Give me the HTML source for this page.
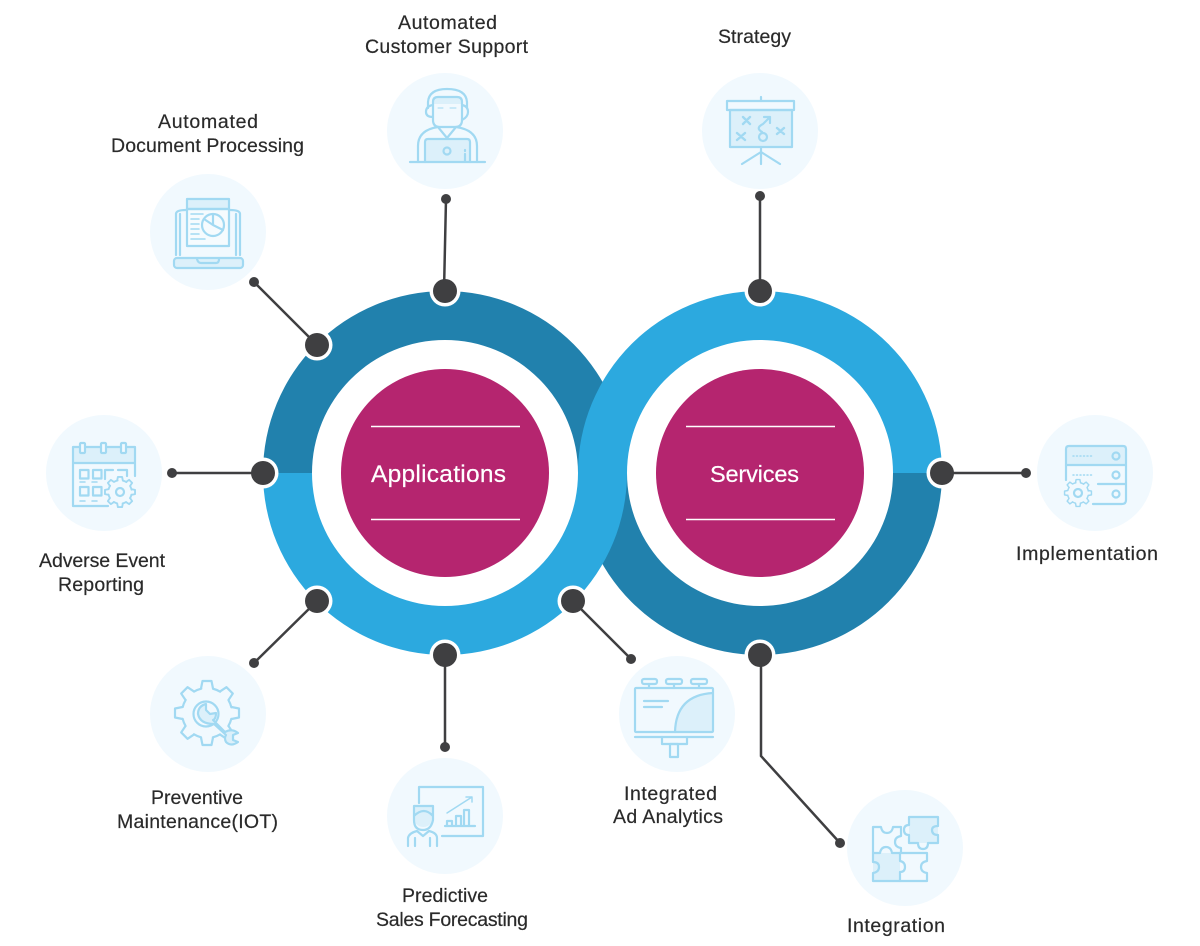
<!DOCTYPE html>
<html><head><meta charset="utf-8"><style>
html,body{margin:0;padding:0;background:#fff}
svg{display:block}
text{font-family:"Liberation Sans",sans-serif;font-size:19.5px;fill:#2a2a2a;stroke:#2a2a2a;stroke-width:.2}
.c{fill:#f1f9fe}
.i{fill:none;stroke:#a1d9f2;stroke-width:2.2;stroke-linejoin:round;stroke-linecap:round}
.f{fill:#dcf0fa;stroke:none}
.l{stroke:#3f3f41;stroke-width:2.5;fill:none}
.n{fill:#3f3f41}
.h{fill:#fff}
.d{fill:#3f3f41}
</style></head><body>
<svg width="1200" height="946" viewBox="0 0 1200 946" xmlns="http://www.w3.org/2000/svg">
<defs>
<g id="gear">
<circle r="25" fill="#f1f9fe" stroke="none"/>
<circle r="25" stroke-dasharray="7.63 12" stroke-dashoffset="13.63"/>
<path d="M-6 -24.500L-4.500 -32H4.500L6 -24.500"/>
<path transform="rotate(45)" d="M-6 -24.500L-4.500 -32H4.500L6 -24.500"/>
<path transform="rotate(90)" d="M-6 -24.500L-4.500 -32H4.500L6 -24.500"/>
<path transform="rotate(135)" d="M-6 -24.500L-4.500 -32H4.500L6 -24.500"/>
<path transform="rotate(180)" d="M-6 -24.500L-4.500 -32H4.500L6 -24.500"/>
<path transform="rotate(225)" d="M-6 -24.500L-4.500 -32H4.500L6 -24.500"/>
<path transform="rotate(270)" d="M-6 -24.500L-4.500 -32H4.500L6 -24.500"/>
<path transform="rotate(315)" d="M-6 -24.500L-4.500 -32H4.500L6 -24.500"/>
</g>
</defs>
<rect width="1200" height="946" fill="#fff"/>

<!-- icon circles -->
<circle class="c" cx="445" cy="131" r="58"/>
<circle class="c" cx="760" cy="131" r="58"/>
<circle class="c" cx="208" cy="232" r="58"/>
<circle class="c" cx="104" cy="473" r="58"/>
<circle class="c" cx="208" cy="714" r="58"/>
<circle class="c" cx="445" cy="816" r="58"/>
<circle class="c" cx="677" cy="714" r="58"/>
<circle class="c" cx="1095" cy="473" r="58"/>
<circle class="c" cx="905" cy="848" r="58"/>

<!-- rings: dark halves first, light halves on top -->
<path d="M263 473A182 182 0 0 1 627 473H578A133 133 0 0 0 312 473Z" fill="#2181ad"/>
<path d="M578 473A182 182 0 0 0 942 473H893A133 133 0 0 1 627 473Z" fill="#2181ad"/>
<path d="M263 473A182 182 0 0 0 627 473H578A133 133 0 0 1 312 473Z" fill="#2ca9df"/>
<path d="M578 473A182 182 0 0 1 942 473H893A133 133 0 0 0 627 473Z" fill="#2ca9df"/>
<circle cx="445" cy="473" r="104" fill="#b5256f"/>
<circle cx="760" cy="473" r="104" fill="#b5256f"/>
<g stroke="#fff" stroke-width="1.600">
<path d="M371 426.500H520M371 519.500H520M686 426.500H835M686 519.500H835"/>
</g>
<text x="371" y="482" textLength="135" style="font-size:24.500px;fill:#fff;stroke:#fff">Applications</text>
<text x="710" y="482" textLength="89" style="font-size:23.500px;fill:#fff;stroke:#fff">Services</text>

<!-- node halos -->
<circle class="h" cx="445" cy="291" r="15.500"/>
<circle class="h" cx="317" cy="345" r="15.500"/>
<circle class="h" cx="263" cy="473" r="15.500"/>
<circle class="h" cx="317" cy="601" r="15.500"/>
<circle class="h" cx="445" cy="655" r="15.500"/>
<circle class="h" cx="573" cy="601" r="15.500"/>
<circle class="h" cx="760" cy="291" r="15.500"/>
<circle class="h" cx="942" cy="473" r="15.500"/>
<circle class="h" cx="760" cy="655" r="15.500"/>

<!-- connectors -->
<path class="l" d="M446 199L444 291M760 196V291M254 282L317 345M172 473H263M254 663L317 601M445 747V655M631 659L573 601M1026 473H942M761 655V756L840 843"/>
<circle class="n" cx="445" cy="291" r="12"/>
<circle class="n" cx="317" cy="345" r="12"/>
<circle class="n" cx="263" cy="473" r="12"/>
<circle class="n" cx="317" cy="601" r="12"/>
<circle class="n" cx="445" cy="655" r="12"/>
<circle class="n" cx="573" cy="601" r="12"/>
<circle class="n" cx="760" cy="291" r="12"/>
<circle class="n" cx="942" cy="473" r="12"/>
<circle class="n" cx="760" cy="655" r="12"/>
<circle class="d" cx="446" cy="199" r="5"/>
<circle class="d" cx="760" cy="196" r="5"/>
<circle class="d" cx="254" cy="282" r="5"/>
<circle class="d" cx="172" cy="473" r="5"/>
<circle class="d" cx="254" cy="663" r="5"/>
<circle class="d" cx="445" cy="747" r="5"/>
<circle class="d" cx="631" cy="659" r="5"/>
<circle class="d" cx="1026" cy="473" r="5"/>
<circle class="d" cx="840" cy="843" r="5"/>

<!-- labels -->
<text x="398" y="29" textLength="99">Automated</text>
<text x="365" y="53" textLength="163">Customer Support</text>
<text x="718" y="43" textLength="73">Strategy</text>
<text x="158" y="128" textLength="100">Automated</text>
<text x="111" y="152" textLength="193">Document Processing</text>
<text x="39" y="567" textLength="126">Adverse Event</text>
<text x="58" y="591" textLength="86">Reporting</text>
<text x="151" y="804" textLength="92">Preventive</text>
<text x="117" y="828" textLength="161">Maintenance(IOT)</text>
<text x="402" y="902" textLength="86">Predictive</text>
<text x="376" y="926" textLength="152">Sales Forecasting</text>
<text x="624" y="800" textLength="93">Integrated</text>
<text x="613" y="823" textLength="110">Ad Analytics</text>
<text x="847" y="932" textLength="98">Integration</text>
<text x="1016" y="560" textLength="142">Implementation</text>

<!-- Customer support icon -->
<path class="f" d="M425 161V142Q425 139 428 139H467Q470 139 470 142V161Z"/>
<path class="f" d="M433 102Q433 97 438 97H457Q462 97 462 102V104H433Z"/>
<g class="i">
<path d="M410 162H485"/>
<path d="M433 102Q433 97 438 97H457Q462 97 462 102V120Q462 127 455 127H440Q433 127 433 120Z"/>
<path d="M428 108V102Q429 89 447 89Q466 89 467 102V108"/>
<path d="M433 105Q426 106 426 112Q426 117 433 117M462 105Q468 106 468 112Q468 117 462 120"/>
<path d="M438 108H443M450 108H456" stroke-width="1"/>
<path d="M418 162V146Q418 130 438 127L447 138L456 127Q477 130 477 146V162"/>
<path d="M425 162V142Q425 139 428 139H467Q470 139 470 142V162"/>
<circle cx="447" cy="151" r="3.500"/>
<path d="M465 150V151M465 154V161"/>
</g>

<!-- Strategy icon -->
<rect class="f" x="730" y="110" width="62" height="37"/>
<g class="i">
<rect x="727" y="101" width="67" height="9" fill="#f1f9fe"/>
<rect x="730" y="110" width="62" height="37"/>
<path d="M761 97V101M761 147V164M761 152L742 164M761 152L780 164"/>
<path d="M743 117L750 124M750 117L743 124M737 133L745 140M745 133L737 140M777 128L784 134M784 128L777 134" stroke-width="2.400"/>
<circle cx="763" cy="137" r="4"/>
<path d="M762 132Q755 128 763 124L770 117M764 117H770V123"/>
</g>

<!-- Document processing icon -->
<rect class="f" x="187" y="199" width="42" height="10"/>
<rect x="187" y="209" width="42" height="37" fill="#f5fbfe"/>
<rect class="f" x="174" y="258" width="69" height="10" rx="3"/>
<g class="i">
<rect x="187" y="199" width="42" height="10"/>
<rect x="187" y="209" width="42" height="37"/>
<path d="M180 255V214M176 255V214Q176 210 186 210M236 255V214M240 255V214Q240 210 230 210"/>
<rect x="174" y="258" width="69" height="10" rx="3"/>
<path d="M197 259Q198 263 201 263H216Q219 263 219 259"/>
<path d="M191 214H203M191 219H199M191 224H199M191 229H199M191 234H199M191 239H205" stroke-width="1.500"/>
<circle cx="213" cy="225" r="11"/>
<path d="M213 214V225L223 230M213 225L204 219"/>
</g>

<!-- Calendar icon -->
<rect class="f" x="73" y="447" width="62" height="16"/>
<g class="i">
<path d="M135 476V447H73V506H108M73 463H135"/>
<rect x="80" y="443" width="5" height="10" rx="1" fill="#f1f9fe"/>
<rect x="101" y="443" width="5" height="10" rx="1" fill="#f1f9fe"/>
<rect x="121" y="443" width="5" height="10" rx="1" fill="#f1f9fe"/>
<rect x="80" y="470" width="8.500" height="8.500"/>
<rect x="93" y="470" width="8.500" height="8.500"/>
<path d="M105 479V470H113M118 470H127V476"/>
<rect x="80" y="487" width="8.500" height="8.500"/>
<rect x="93" y="487" width="8.500" height="8.500"/>
<path d="M80 501H85M92 501H97M80 482H85M92 482H97" stroke-width="1.500"/>
</g>
<g class="i" style="stroke-width:4" transform="translate(120 492) scale(.47)"><use href="#gear"/></g>
<g class="i"><circle cx="120" cy="492" r="4"/></g>

<!-- Gear with wrench -->
<g class="i" style="stroke-width:2.200" transform="translate(207 713)"><use href="#gear"/></g>
<g class="i">
<circle cx="206" cy="714" r="12.500"/>
<path d="M206 704L206 710L210 714L216 713Q216 719 213 720L225 732Q232 728 238 733L233 735V740L238 742Q231 747 226 742Q224 738 226 735L214 724Q200 724 198 714Q198 706 206 704Z" fill="#dcf0fa"/>
</g>

<!-- Predictive icon -->
<path class="f" d="M414 816V806H433V822Q423 832 414 822Z"/>
<g class="i">
<path d="M419 803V787H483V836H442"/>
<path d="M414 806H433V820Q431 830 423 830Q414 830 414 820ZM414 816Q424 806 433 816"/>
<path d="M408 846V838Q409 833 417 831L423 836L429 831Q437 833 437 838V846M415 838V846M430 838V846"/>
<path d="M445 826H475M447 826V821H452V826M456 826V816H461V826M464 826V810H469V826"/>
<path d="M447 813L472 797M466 797H472V802" stroke-width="1.500"/>
</g>

<!-- Billboard icon -->
<path class="f" d="M675 732Q676 695 713 693V732Z"/>
<g class="i">
<rect x="635" y="688" width="78" height="44" rx="1"/>
<path d="M675 732Q676 695 713 693"/>
<rect x="642" y="679" width="15" height="5" rx="2"/>
<rect x="666" y="679" width="16" height="5" rx="2"/>
<rect x="691" y="679" width="16" height="5" rx="2"/>
<path d="M649 684V688M674 684V688M699 684V688"/>
<path d="M644 701H668M644 707H662"/>
<path d="M635 737H713"/>
<path d="M662 737V744H687V737"/>
<rect x="670" y="744" width="8" height="13"/>
</g>

<!-- Integration puzzle -->
<rect class="f" x="873" y="853" width="27" height="28"/>
<rect class="f" x="909" y="817" width="29" height="26"/>
<g class="i">
<path d="M873 853V827H881Q882 833 887 833Q892 833 893 827H901V836Q895 837 895 842Q895 847 901 848V853H892Q891 847 886 847Q881 847 880 853Z"/>
<path d="M873 853V862Q879 862 879 867Q879 872 873 873V881H900V872Q905 872 905 867Q905 862 900 861V853"/>
<path d="M900 881H927V873Q921 872 921 867Q921 862 927 861V853H900"/>
<path d="M909 817H938V826Q932 826 932 830Q932 835 938 835V843H928Q928 849 923 849Q918 849 918 843H909V835Q904 835 904 830Q904 825 909 825Z"/>
</g>

<!-- Server icon -->
<path class="f" d="M1069 446H1123Q1126 446 1126 449V465H1066V449Q1066 446 1069 446Z"/>
<g class="i">
<path d="M1069 446H1123Q1126 446 1126 449V465H1066V449Q1066 446 1069 446Z"/>
<path d="M1066 465V480M1126 465V484H1098M1126 484V500Q1126 504 1122 504H1093"/>
<circle cx="1116" cy="456" r="3.500"/>
<circle cx="1116" cy="475" r="3.500"/>
<circle cx="1116" cy="494" r="3.500"/>
<path d="M1073 456H1092M1073 475H1092" stroke-width="1.500" stroke-dasharray="1 2.500"/>
</g>
<g class="i" style="stroke-width:3.500" transform="translate(1078 493) scale(.42)"><use href="#gear"/></g>
<g class="i"><circle cx="1078" cy="493" r="4"/></g>
</svg>
</body></html>
